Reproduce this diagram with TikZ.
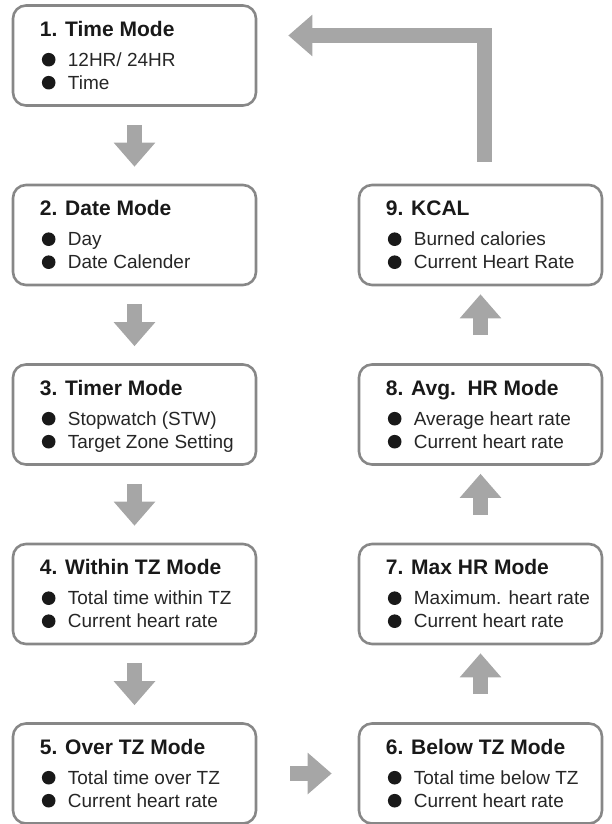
\documentclass[tikz,border=0pt]{standalone}
\usepackage{fontspec}
\setmainfont{Liberation Sans}
\usetikzlibrary{arrows.meta}
\definecolor{boxgray}{HTML}{878787}
\definecolor{arrowgray}{HTML}{A6A6A6}
\begin{document}
\begin{tikzpicture}[x=1pt,y=-1pt,
  mode/.style={draw=boxgray, line width=2.6pt, rounded corners=13pt,
    minimum width=243pt, minimum height=100pt, inner sep=0pt},
  head/.style={anchor=base west, inner sep=0pt, text=black!90,
    font=\bfseries\fontsize{21}{21}\selectfont},
  item/.style={anchor=base west, inner sep=0pt, text=black!85,
    font=\fontsize{19}{19}\selectfont},
  flow/.style={draw=arrowgray, line width=15pt, line join=miter,
    -{Triangle[width=40pt,length=24pt]}}]
\useasboundingbox (0,0) rectangle (611,824);
% left column
\node[mode] (b1) at (134.5,55.5) {};
\node[head] (b1t) at ([xshift=28pt,yshift=-32pt]b1.north west) {1. Time Mode};
\node[item] (b1a) at ([xshift=56pt,yshift=-62pt]b1.north west) {12HR/ 24HR};
\node[item] (b1b) at ([xshift=56pt,yshift=-85pt]b1.north west) {Time};
\node[mode] (b2) at (134.5,235) {};
\node[head] (b2t) at ([xshift=28pt,yshift=-32pt]b2.north west) {2. Date Mode};
\node[item] (b2a) at ([xshift=56pt,yshift=-62pt]b2.north west) {Day};
\node[item] (b2b) at ([xshift=56pt,yshift=-85pt]b2.north west) {Date Calender};
\node[mode] (b3) at (134.5,414.5) {};
\node[head] (b3t) at ([xshift=28pt,yshift=-32pt]b3.north west) {3. Timer Mode};
\node[item] (b3a) at ([xshift=56pt,yshift=-62pt]b3.north west) {Stopwatch (STW)};
\node[item] (b3b) at ([xshift=56pt,yshift=-85pt]b3.north west) {Target Zone Setting};
\node[mode] (b4) at (134.5,594) {};
\node[head] (b4t) at ([xshift=28pt,yshift=-32pt]b4.north west) {4. Within TZ Mode};
\node[item] (b4a) at ([xshift=56pt,yshift=-62pt]b4.north west) {Total time within TZ};
\node[item] (b4b) at ([xshift=56pt,yshift=-85pt]b4.north west) {Current heart rate};
\node[mode] (b5) at (134.5,773.5) {};
\node[head] (b5t) at ([xshift=28pt,yshift=-32pt]b5.north west) {5. Over TZ Mode};
\node[item] (b5a) at ([xshift=56pt,yshift=-62pt]b5.north west) {Total time over TZ};
\node[item] (b5b) at ([xshift=56pt,yshift=-85pt]b5.north west) {Current heart rate};
% right column
\node[mode] (b6) at (480.5,773.5) {};
\node[head] (b6t) at ([xshift=28pt,yshift=-32pt]b6.north west) {6. Below TZ Mode};
\node[item] (b6a) at ([xshift=56pt,yshift=-62pt]b6.north west) {Total time below TZ};
\node[item] (b6b) at ([xshift=56pt,yshift=-85pt]b6.north west) {Current heart rate};
\node[mode] (b7) at (480.5,594) {};
\node[head] (b7t) at ([xshift=28pt,yshift=-32pt]b7.north west) {7. Max HR Mode};
\node[item] (b7a) at ([xshift=56pt,yshift=-62pt]b7.north west) {Maximum. heart rate};
\node[item] (b7b) at ([xshift=56pt,yshift=-85pt]b7.north west) {Current heart rate};
\node[mode] (b8) at (480.5,414.5) {};
\node[head] (b8t) at ([xshift=28pt,yshift=-32pt]b8.north west) {8. Avg.\ \ HR Mode};
\node[item] (b8a) at ([xshift=56pt,yshift=-62pt]b8.north west) {Average heart rate};
\node[item] (b8b) at ([xshift=56pt,yshift=-85pt]b8.north west) {Current heart rate};
\node[mode] (b9) at (480.5,235) {};
\node[head] (b9t) at ([xshift=28pt,yshift=-32pt]b9.north west) {9. KCAL};
\node[item] (b9a) at ([xshift=56pt,yshift=-62pt]b9.north west) {Burned calories};
\node[item] (b9b) at ([xshift=56pt,yshift=-85pt]b9.north west) {Current Heart Rate};
% bullets
\foreach \n in {b1a,b1b,b2a,b2b,b3a,b3b,b4a,b4b,b5a,b5b,b6a,b6b,b7a,b7b,b8a,b8b,b9a,b9b}
  \fill[black!90] ([xshift=-19pt,yshift=6.5pt]\n.base west) circle[radius=6.8pt];
% arrows
\draw[flow] ([yshift=-18pt]b1.south) -- ([yshift=17pt]b2.north);
\draw[flow] ([yshift=-18pt]b2.south) -- ([yshift=17pt]b3.north);
\draw[flow] ([yshift=-18pt]b3.south) -- ([yshift=17pt]b4.north);
\draw[flow] ([yshift=-18pt]b4.south) -- ([yshift=17pt]b5.north);
\draw[flow] ([xshift=33pt]b5.east) -- ([xshift=-26pt]b6.west);
\draw[flow] ([yshift=28pt]b6.north) -- ([yshift=-8pt]b7.south);
\draw[flow] ([yshift=28pt]b7.north) -- ([yshift=-8pt]b8.south);
\draw[flow] ([yshift=28pt]b8.north) -- ([yshift=-8pt]b9.south);
\draw[flow] ([xshift=4pt,yshift=22pt]b9.north) |- ([xshift=31pt,yshift=20pt]b1.east);
\end{tikzpicture}
\end{document}
